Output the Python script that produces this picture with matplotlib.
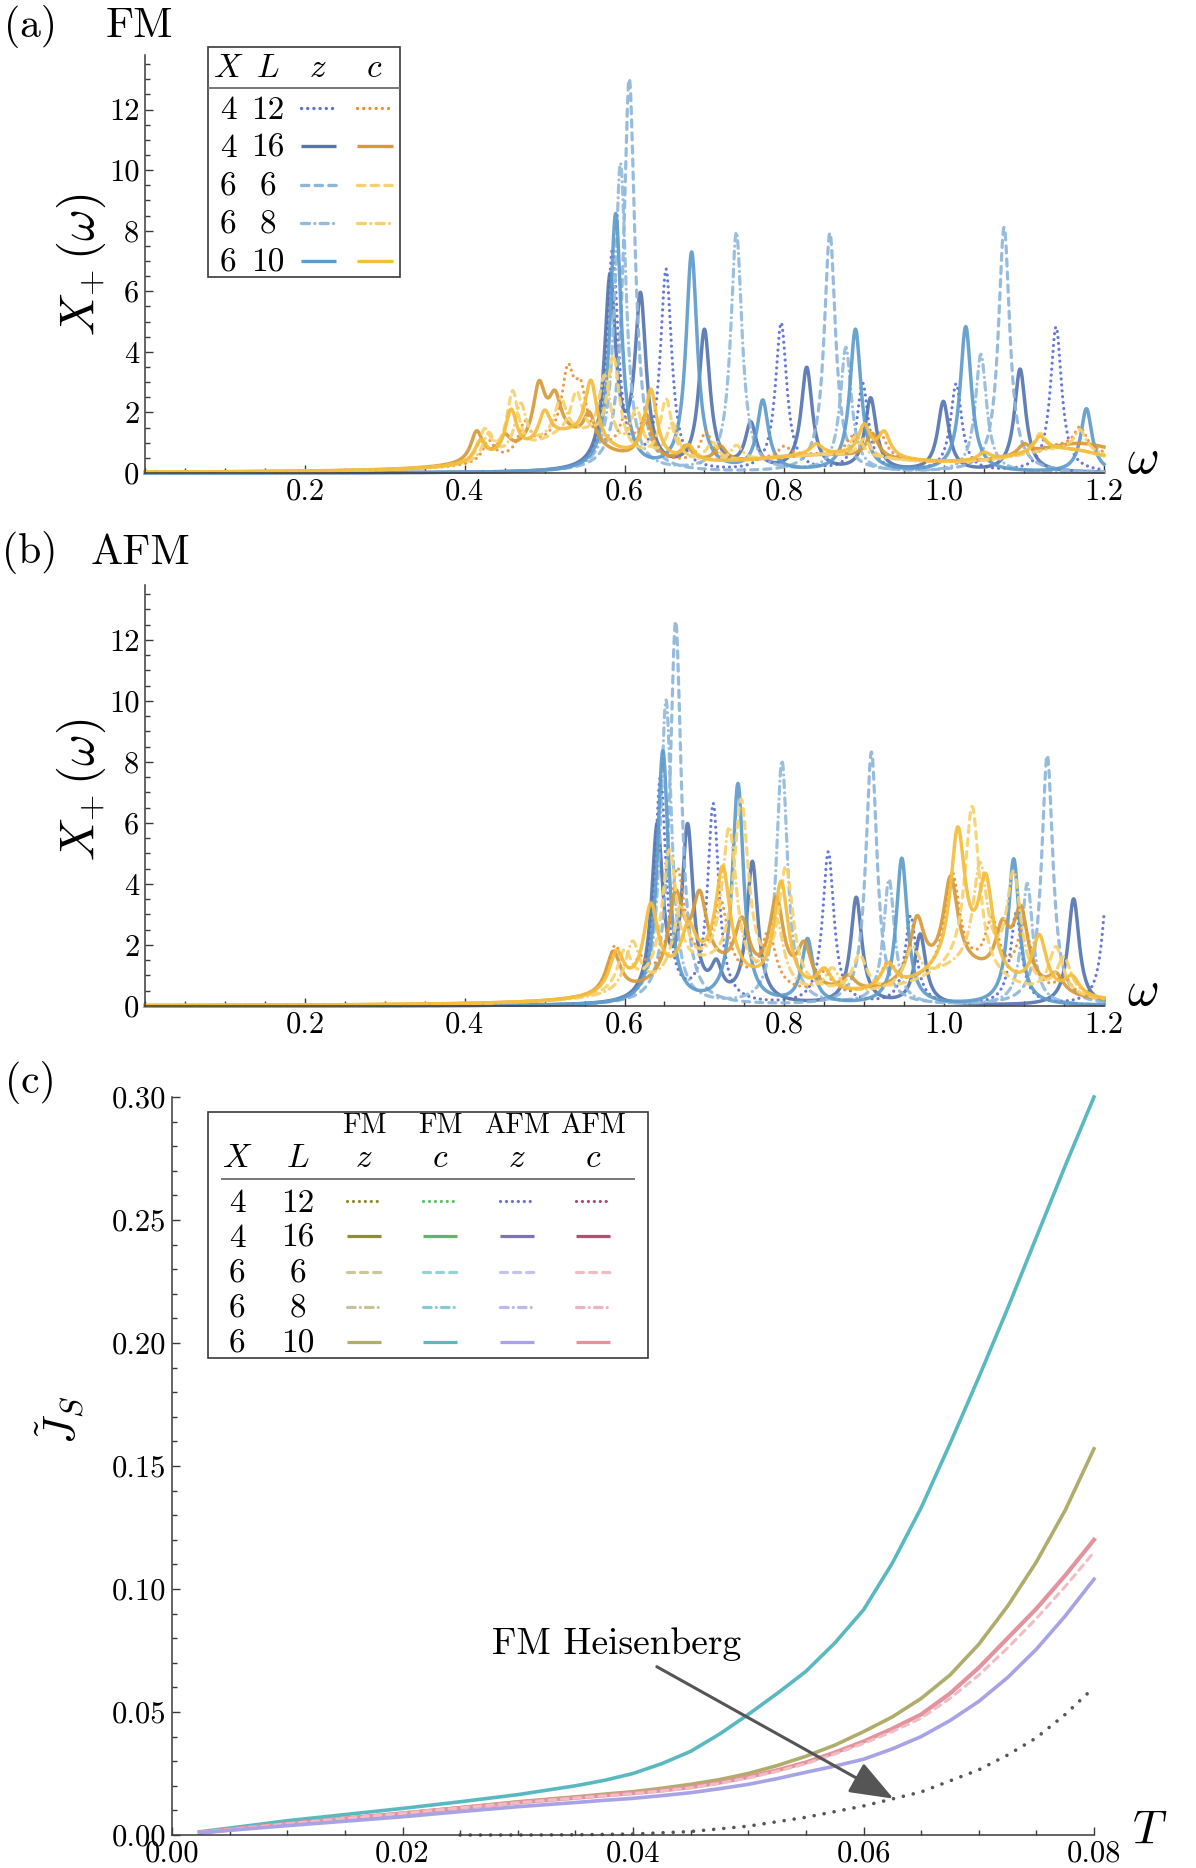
import numpy as np
import matplotlib
matplotlib.use("Agg")
from matplotlib import pyplot as plt
from matplotlib.patches import Rectangle
from matplotlib.lines import Line2D

plt.rcParams['font.family'] = 'cmr10'
plt.rcParams['mathtext.fontset'] = 'cm'
plt.rcParams['axes.formatter.use_mathtext'] = True

# ---------------- data ----------------
# spectra: peaks, (omega, height) or (omega, height, width)
Z_WIDTH = 0.0085
C_WIDTH = 0.009

# (a) FM
fm_z_4_12 = [(0.585, 7.3), (0.652, 6.6), (0.796, 4.9), (0.898, 2.9), (1.015, 2.9), (1.140, 4.8)]
fm_z_4_16 = [(0.582, 6.3), (0.620, 5.6), (0.700, 4.6), (0.758, 1.5), (0.828, 3.4), (0.908, 2.4),
             (0.999, 2.3), (1.095, 3.4)]
fm_z_6_6 = [(0.606, 13.0), (0.857, 7.9), (1.075, 8.1)]
fm_z_6_8 = [(0.595, 10.2), (0.740, 7.9), (0.877, 4.1), (1.046, 3.9)]
fm_z_6_10 = [(0.589, 8.5), (0.684, 7.2), (0.773, 2.3), (0.889, 4.7), (1.027, 4.8), (1.178, 2.1)]

fm_c_4_12 = [(0.53, 1.0, 0.06), (0.85, 0.5, 0.12), (1.15, 0.8, 0.08),
             (0.430, 0.7), (0.475, 1.0), (0.529, 2.1), (0.545, 1.5), (0.600, 1.1), (0.625, 1.2),
             (0.702, 1.0), (0.800, 0.35), (0.885, 0.6), (0.920, 0.8), (1.170, 0.7)]
fm_c_4_16 = [(0.52, 1.1, 0.06), (0.85, 0.5, 0.12), (1.17, 0.9, 0.08),
             (0.415, 1.0), (0.450, 0.6), (0.493, 1.8), (0.513, 1.2), (0.556, 1.0), (0.627, 1.5),
             (0.677, 0.5), (0.720, 0.5), (0.910, 0.8), (1.100, 0.35)]
fm_c_6_6 = [(0.53, 1.1, 0.06), (0.85, 0.5, 0.12), (1.15, 0.7, 0.08),
            (0.425, 1.0), (0.460, 2.1), (0.540, 1.4), (0.586, 3.1), (0.652, 2.0), (0.710, 0.6),
            (0.900, 0.6), (1.120, 0.6)]
fm_c_6_8 = [(0.53, 1.1, 0.06), (0.85, 0.5, 0.12), (1.15, 0.7, 0.08),
            (0.430, 0.9), (0.470, 1.6), (0.520, 1.2), (0.575, 2.3), (0.615, 1.5), (0.660, 1.2),
            (0.740, 0.5), (0.890, 0.7), (1.170, 0.7)]
fm_c_6_10 = [(0.53, 1.1, 0.06), (0.85, 0.5, 0.12), (1.15, 0.7, 0.08),
             (0.420, 0.7), (0.458, 1.5), (0.500, 1.0), (0.558, 2.0), (0.633, 2.3), (0.680, 0.5),
             (0.840, 0.35), (0.900, 1.0), (0.925, 0.8), (1.050, 0.25), (1.120, 0.5)]

# (b) AFM
afm_z_4_12 = [(0.645, 7.4), (0.711, 6.5), (0.855, 5.0), (0.958, 2.9), (1.090, 3.0), (1.205, 4.0)]
afm_z_4_16 = [(0.641, 5.7), (0.679, 5.6), (0.715, 1.0), (0.760, 4.6), (0.890, 3.5), (0.970, 2.3),
              (1.162, 3.5)]
afm_z_6_6 = [(0.664, 12.6), (0.909, 8.3), (1.129, 8.2)]
afm_z_6_8 = [(0.652, 10.0), (0.797, 8.0), (0.931, 4.1), (1.104, 4.0)]
afm_z_6_10 = [(0.648, 8.3), (0.742, 7.2), (0.829, 2.1), (0.947, 4.8), (1.087, 4.8)]

afm_c_4_12 = [(0.70, 1.0, 0.07), (1.02, 1.0, 0.07),
              (0.588, 1.5), (0.620, 0.8), (0.666, 3.5), (0.720, 2.3), (0.780, 1.8), (0.850, 0.7),
              (0.930, 0.9), (1.010, 3.2), (1.060, 1.8), (1.100, 2.0), (1.150, 0.6)]
afm_c_4_16 = [(0.70, 1.0, 0.07), (1.02, 1.0, 0.07),
              (0.586, 1.4), (0.664, 2.6), (0.694, 2.3), (0.747, 1.8), (0.790, 2.8), (0.825, 1.4),
              (0.880, 0.5), (0.966, 2.0), (1.008, 3.0), (1.073, 1.6), (1.096, 2.4), (1.140, 0.6)]
afm_c_6_6 = [(0.70, 1.0, 0.07), (1.02, 1.0, 0.07),
             (0.600, 1.3), (0.656, 4.2), (0.746, 5.8), (0.802, 3.9), (0.894, 1.2), (1.035, 5.5),
             (1.140, 1.6)]
afm_c_6_8 = [(0.70, 1.0, 0.07), (1.02, 1.0, 0.07),
             (0.610, 1.6), (0.670, 2.2), (0.731, 4.8), (0.790, 2.2), (0.860, 0.8), (0.960, 1.2),
             (1.045, 3.5), (1.087, 3.6), (1.150, 1.2)]
afm_c_6_10 = [(0.70, 1.0, 0.07), (1.02, 1.0, 0.07),
              (0.590, 1.3), (0.633, 2.6), (0.680, 1.4), (0.723, 3.4), (0.796, 3.5), (0.850, 0.7),
              (0.930, 0.8), (1.017, 4.5), (1.052, 3.0), (1.119, 1.8), (1.160, 0.6)]

# (c) spin Drude weight vs T
T = [0.0024, 0.005, 0.01, 0.015, 0.02, 0.025, 0.03, 0.035, 0.0375, 0.04, 0.0425, 0.045, 0.0475,
     0.05, 0.0525, 0.055, 0.0575, 0.06, 0.0625, 0.065, 0.0675, 0.07, 0.0725, 0.075, 0.0775, 0.08]
js_fm_c_10 = [0.0013, 0.0028, 0.0058, 0.0083, 0.0108, 0.0135, 0.0164, 0.0200, 0.0222, 0.0250,
              0.0290, 0.0340, 0.0410, 0.0490, 0.0575, 0.0665, 0.0780, 0.0915, 0.1105, 0.1330,
              0.1590, 0.1860, 0.2140, 0.2430, 0.2720, 0.3000]
js_fm_z_10 = [0.0010, 0.0022, 0.0045, 0.0067, 0.0088, 0.0111, 0.0135, 0.0155, 0.0166, 0.0176,
              0.0190, 0.0206, 0.0225, 0.0250, 0.0282, 0.0320, 0.0365, 0.0420, 0.0480, 0.0555,
              0.0650, 0.0775, 0.0930, 0.1110, 0.1320, 0.1570]
js_afm_c_10 = [0.0010, 0.0022, 0.0045, 0.0067, 0.0088, 0.0110, 0.0132, 0.0151, 0.0161, 0.0170,
               0.0181, 0.0194, 0.0213, 0.0236, 0.0263, 0.0295, 0.0335, 0.0380, 0.0432, 0.0490,
               0.0575, 0.0680, 0.0800, 0.0920, 0.1055, 0.1200]
js_afm_c_6 = [0.0010, 0.0022, 0.0045, 0.0067, 0.0088, 0.0110, 0.0131, 0.0150, 0.0159, 0.0168,
              0.0179, 0.0192, 0.0210, 0.0232, 0.0259, 0.0290, 0.0329, 0.0372, 0.0420, 0.0475,
              0.0555, 0.0650, 0.0760, 0.0880, 0.1010, 0.1150]
js_afm_z_10 = [0.0008, 0.0019, 0.0038, 0.0056, 0.0074, 0.0095, 0.0115, 0.0132, 0.0141, 0.0149,
               0.0160, 0.0172, 0.0188, 0.0206, 0.0229, 0.0255, 0.0280, 0.0308, 0.0350, 0.0400,
               0.0465, 0.0543, 0.0640, 0.0755, 0.0890, 0.1040]
T_heis = [0.025, 0.03, 0.035, 0.04, 0.045, 0.05, 0.055, 0.06, 0.065, 0.07, 0.0725, 0.075, 0.0775, 0.08]
js_heis = [0.0, 0.0, 0.0001, 0.0004, 0.0014, 0.0036, 0.0072, 0.0118, 0.0175, 0.0265, 0.0325,
           0.0395, 0.0490, 0.0600]
heis_arrow_T = 0.0626

legend_rows = [("4", "12"), ("4", "16"), ("6", "6"), ("6", "8"), ("6", "10")]
ab_xticks = ["0.2", "0.4", "0.6", "0.8", "1.0", "1.2"]
ab_yticks = ["0", "2", "4", "6", "8", "10", "12"]
c_xticks = ["0.00", "0.02", "0.04", "0.06", "0.08"]
c_yticks = ["0.00", "0.05", "0.10", "0.15", "0.20", "0.25", "0.30"]

# ---------------- styles ----------------
W, H = 1196, 1868
DOT = (0, (0.01, 1.85))
DASH = (0, (2.2, 1.9))
DASHDOT = (0, (2.4, 1.6, 0.01, 1.6))
line_style = {"12": DOT, "16": "-", "6": DASH, "8": DASHDOT, "10": "-"}
z_colors = {"12": "#5a6dd2", "16": "#5574b0", "6": "#8db6da", "8": "#93bbdc", "10": "#5e9bcb"}
c_colors = {"12": "#e9913a", "16": "#d69a38", "6": "#f6d36e", "8": "#f6d070", "10": "#f4bd3c"}
js_colors = {
    "fmz": {"12": "#8b8b22", "16": "#8f8f2a", "6": "#cbc89c", "8": "#c8c49a", "10": "#b0ad6c"},
    "fmc": {"12": "#5cbf66", "16": "#5cb86a", "6": "#96d3d8", "8": "#86cbd2", "10": "#5ab8c0"},
    "afmz": {"12": "#6e6ec8", "16": "#7a72bc", "6": "#c4c2f2", "8": "#bcb8f0", "10": "#a8a2e6"},
    "afmc": {"12": "#b0466e", "16": "#b44e70", "6": "#f2bcc4", "8": "#f0b4bc", "10": "#e2939c"},
}
AX_COLOR = "#3a3a3a"
TICK_SIZE = 22


def fig_xy(x, y):
    return x / W, 1 - y / H


def add_axes_px(x0, y0, x1, y1):
    return fig.add_axes([x0 / W, 1 - y1 / H, (x1 - x0) / W, (y1 - y0) / H])


def spectrum(omega, peaks, default_width):
    y = np.zeros_like(omega)
    for p in peaks:
        g = p[2] if len(p) > 2 else default_width
        y += p[1] * g ** 2 / ((omega - p[0]) ** 2 + g ** 2)
    return y


def style_axes(ax):
    for s in ["top", "right"]:
        ax.spines[s].set_visible(False)
    for s in ["left", "bottom"]:
        ax.spines[s].set_color(AX_COLOR)
        ax.spines[s].set_linewidth(1.1)
    ax.tick_params(which="both", direction="in", color=AX_COLOR, width=1.0,
                   labelsize=TICK_SIZE, pad=4)
    ax.tick_params(which="major", length=6)
    ax.tick_params(which="minor", length=3.5)
    ax.set_facecolor("none")


def seg(x0, x1, y, color, ls, lw=2.2):
    fig.add_artist(Line2D([x0 / W, x1 / W], [1 - y / H, 1 - y / H], color=color, ls=ls, lw=lw,
                          dash_capstyle="round", solid_capstyle="butt", transform=fig.transFigure))


def ftext(x, y, s, size, **kw):
    fig.text(x / W, 1 - y / H, s, fontsize=size, ha=kw.pop("ha", "center"),
             va=kw.pop("va", "center"), **kw)


fig = plt.figure(figsize=(W / 100, H / 100), dpi=100)
omega = np.linspace(0, 1.2, 2401)

series_keys = ["12", "16", "6", "8", "10"]
panels = [
    ((145, 55, 1104, 473), [fm_z_4_12, fm_z_4_16, fm_z_6_6, fm_z_6_8, fm_z_6_10],
     [fm_c_4_12, fm_c_4_16, fm_c_6_6, fm_c_6_8, fm_c_6_10], 265),
    ((145, 585, 1104, 1006), [afm_z_4_12, afm_z_4_16, afm_z_6_6, afm_z_6_8, afm_z_6_10],
     [afm_c_4_12, afm_c_4_16, afm_c_6_6, afm_c_6_8, afm_c_6_10], 790),
]
c_widths = [C_WIDTH, 0.011]
for k, (box, zs, cs, label_y) in enumerate(panels):
    ax = add_axes_px(*box)
    for key, peaks in zip(series_keys, zs):
        lw = 2.5 if line_style[key] == "-" else 2.3
        ax.plot(omega, spectrum(omega, peaks, Z_WIDTH), color=z_colors[key], ls=line_style[key],
                lw=lw, dash_capstyle="round", alpha=0.92, clip_on=False)
    for key, peaks in zip(series_keys, cs):
        lw = 2.5 if line_style[key] == "-" else 2.3
        ax.plot(omega, spectrum(omega, peaks, c_widths[k]), color=c_colors[key], ls=line_style[key],
                lw=lw, dash_capstyle="round", alpha=0.92, clip_on=False)
    ax.set_xlim(0, 1.2)
    ax.set_ylim(0, 13.8)
    ax.set_xticks(np.arange(1, 7) * 0.2, ab_xticks)
    ax.set_xticks(np.arange(0, 25) * 0.05, minor=True)
    ax.set_yticks(np.arange(0, 7) * 2, ab_yticks)
    ax.set_yticks(np.arange(0, 28) * 0.5, minor=True)
    style_axes(ax)
    ftext(81, label_y, r"$X_{+}\,(\omega)$", 35, rotation=90)
    ax.text(1.024, 0.03, r"$\omega$", transform=ax.transAxes, fontsize=35, ha="left", va="center")

# panel titles
ftext(30, 26, "(a)", 30)
ftext(139, 26, "FM", 31)
ftext(30, 553, "(b)", 30)
ftext(140, 553, "AFM", 31)
ftext(30, 1082, "(c)", 30)

# legend (a)
fig.add_artist(Rectangle(fig_xy(208, 277), 192 / W, 230 / H, transform=fig.transFigure,
                         fill=False, edgecolor=AX_COLOR, lw=1.2))
seg(208, 400, 88, "#777777", "-", 1.4)
for xx, s in [(228, r"$X$"), (268, r"$L$"), (318, r"$z$"), (374, r"$c$")]:
    ftext(xx, 68, s, 24)
for i, (xv, lv) in enumerate(legend_rows):
    yy = 110 + i * 38.3
    ftext(228, yy, xv, 24)
    ftext(268, yy, lv, 24)
    seg(301, 336, yy - 2, z_colors[lv], line_style[lv], 2.4)
    seg(357, 393, yy - 2, c_colors[lv], line_style[lv], 2.4)

# ---------------- panel (c) ----------------
axc = add_axes_px(172, 1097, 1094, 1835)
axc.plot(T, js_fm_c_10, color=js_colors["fmc"]["10"], lw=2.6, clip_on=False)
axc.plot(T, js_fm_z_10, color=js_colors["fmz"]["10"], lw=2.6, clip_on=False)
axc.plot(T, js_afm_c_10, color=js_colors["afmc"]["10"], lw=3.0, clip_on=False)
axc.plot(T, js_afm_c_6, color=js_colors["afmc"]["6"], lw=2.2, ls=DASH, dash_capstyle="round", clip_on=False)
axc.plot(T, js_afm_z_10, color=js_colors["afmz"]["10"], lw=2.6, clip_on=False)
axc.plot(T_heis, js_heis, color="#555555", lw=2.6, ls=(0, (0.01, 2.8)), dash_capstyle="round",
         clip_on=False)
axc.set_xlim(0, 0.08)
axc.set_ylim(0, 0.30)
axc.set_xticks(np.arange(0, 5) * 0.02, c_xticks)
axc.set_xticks(np.arange(0, 17) * 0.005, minor=True)
axc.set_yticks(np.arange(0, 7) * 0.05, c_yticks)
axc.set_yticks(np.arange(0, 31) * 0.01, minor=True)
style_axes(axc)
ftext(60, 1420, r"$\tilde{J}_S$", 32, rotation=90)
axc.text(1.041, 0.005, r"$T$", transform=axc.transAxes, fontsize=34, ha="left", va="center")

arrow_J = np.interp(heis_arrow_T, T_heis, js_heis)
axc.annotate("FM Heisenberg", xy=(heis_arrow_T, arrow_J), xytext=(0.0494, 0.0775),
             fontsize=27, ha="right", va="center",
             arrowprops=dict(arrowstyle="-|>,head_length=1.0,head_width=0.38", color="#555555",
                             lw=2.2, shrinkA=4, shrinkB=0))

# legend (c)
fig.add_artist(Rectangle(fig_xy(208, 1358), 440 / W, 246 / H, transform=fig.transFigure,
                         fill=False, edgecolor=AX_COLOR, lw=1.2))
seg(221, 635, 1179, "#777777", "-", 1.4)
col_x = [364, 440, 517, 593]
for xx, s in zip(col_x, ["FM", "FM", "AFM", "AFM"]):
    ftext(xx, 1126, s, 20.5)
for xx, s in [(237, r"$X$"), (298, r"$L$"), (364, r"$z$"), (440, r"$c$"), (517, r"$z$"), (593, r"$c$")]:
    ftext(xx, 1158, s, 24)
for i, (xv, lv) in enumerate(legend_rows):
    yy = 1203 + i * 35.3
    ftext(237, yy, xv, 24)
    ftext(298, yy, lv, 24)
    for xx, key in zip(col_x, ["fmz", "fmc", "afmz", "afmc"]):
        seg(xx - 17, xx + 17, yy - 2, js_colors[key][lv], line_style[lv], 2.3)

fig.savefig("out.png", dpi=100)
